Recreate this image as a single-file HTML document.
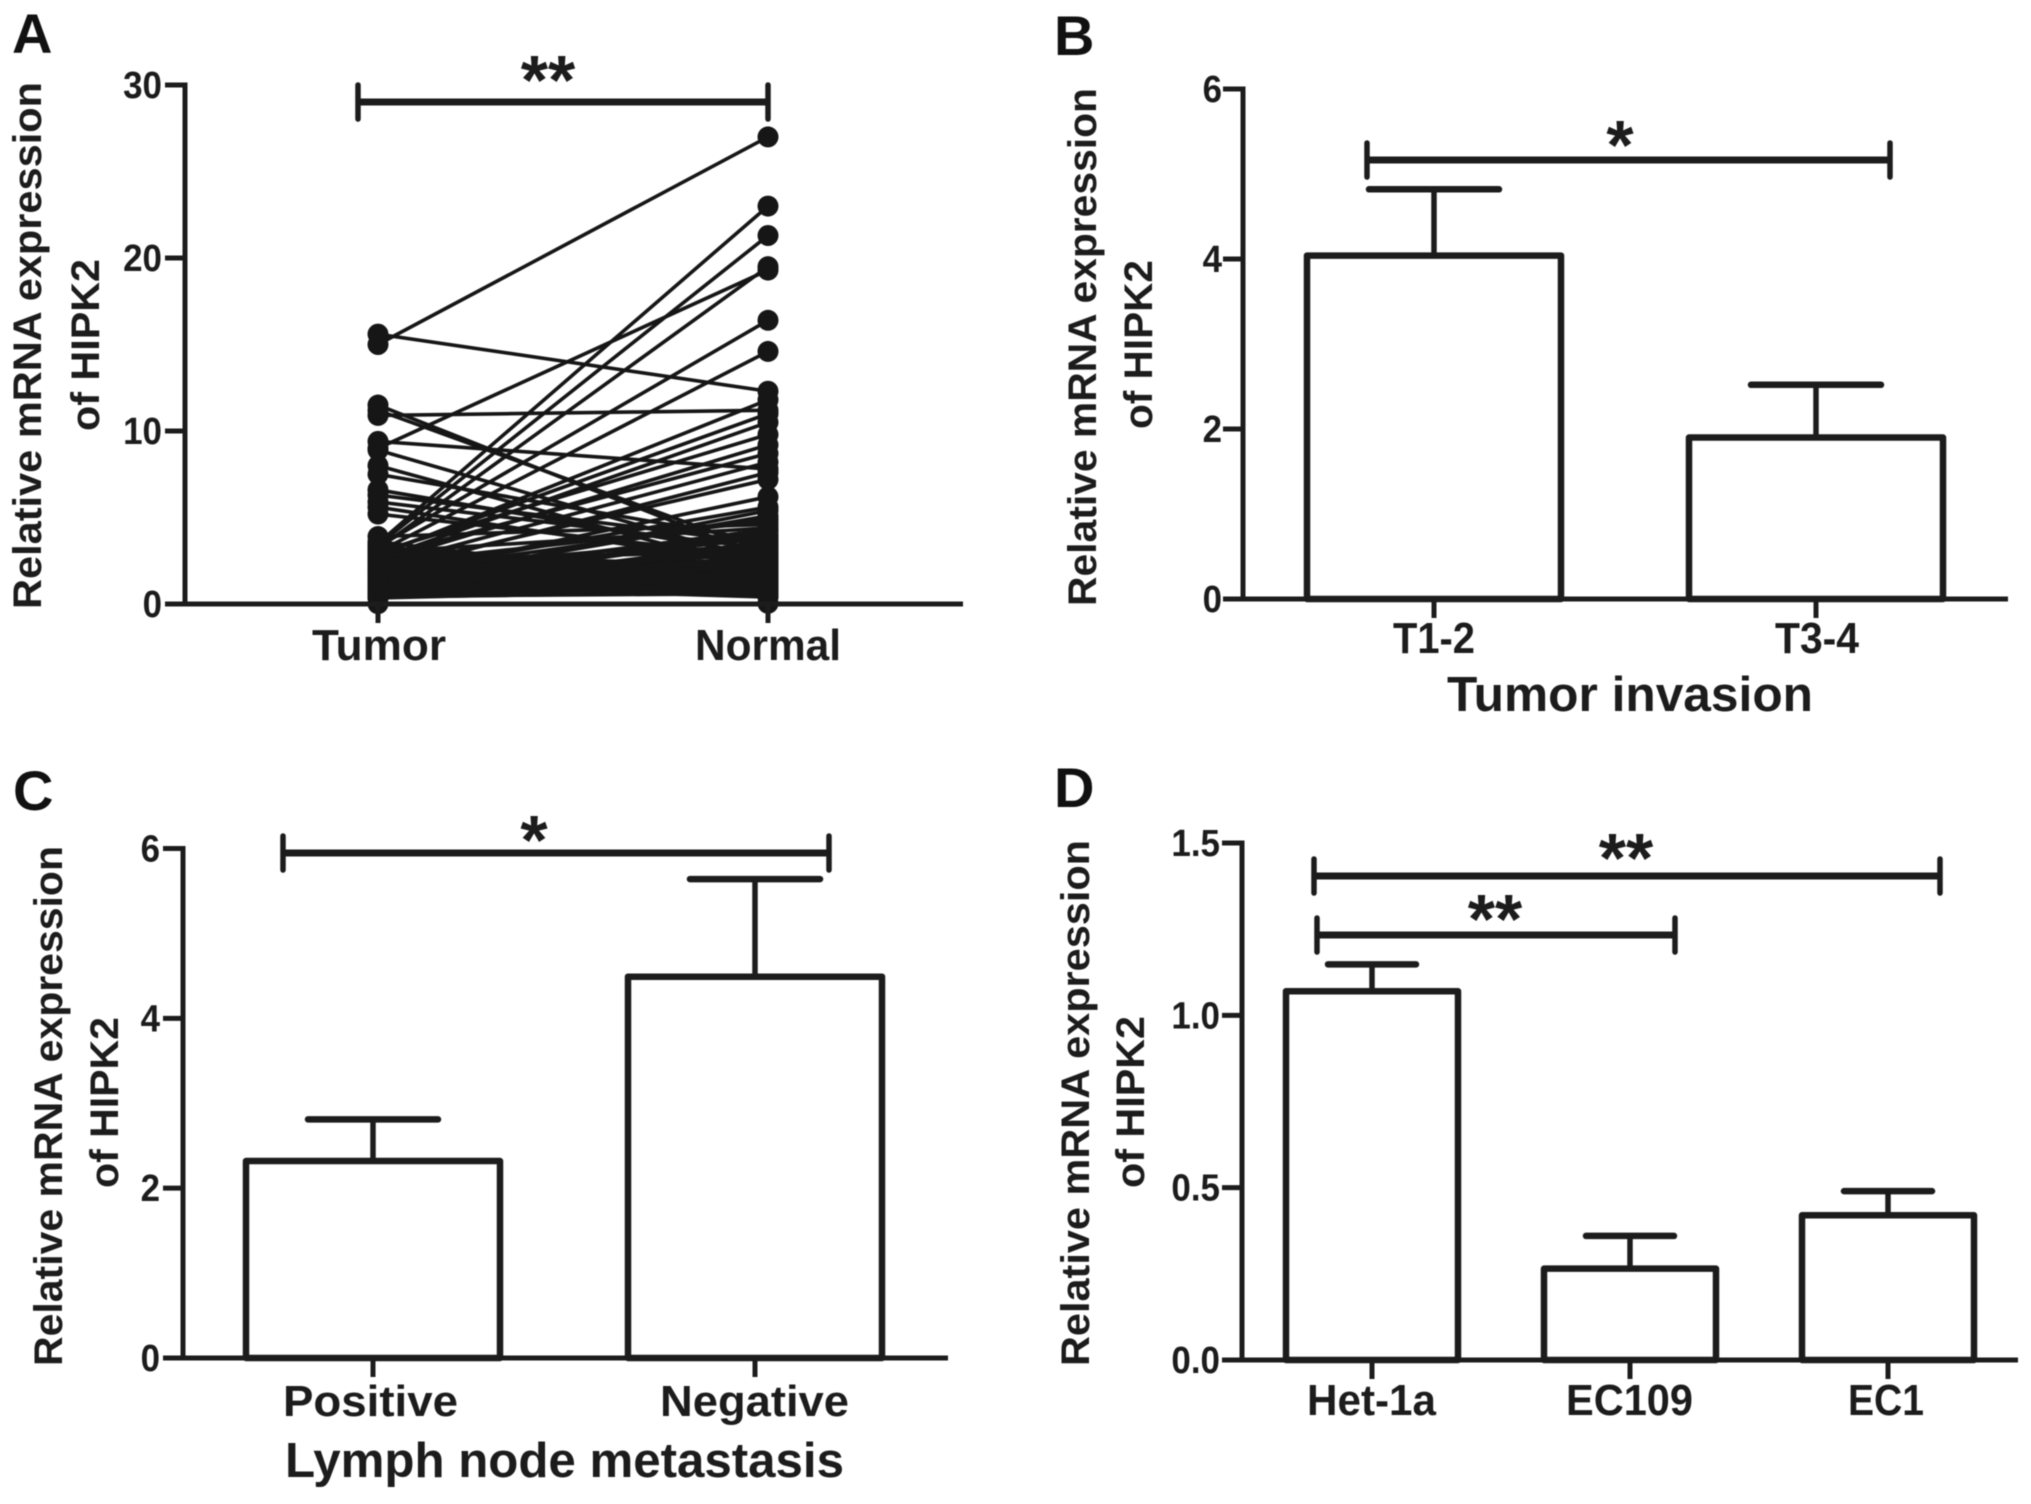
<!DOCTYPE html>
<html lang="en">
<head>
<meta charset="utf-8">
<title>Relative mRNA expression of HIPK2</title>
<style>
  html, body { margin: 0; padding: 0; background: #fff; }
  svg { display: block; filter: blur(0.6px); }
  text { font-family: "Liberation Sans", sans-serif; font-weight: bold; fill: #1c1c1c; }
  .letter { font-size: 56px; fill: #111; }
  .ytitle { font-size: 40px; }
  .xtitle { font-size: 49px; }
  .cat { font-size: 44px; }
  .tick { font-size: 38px; text-anchor: end; }
  .star { font-size: 70px; text-anchor: middle; }
</style>
</head>
<body>
<svg id="figure" xmlns="http://www.w3.org/2000/svg" width="2031" height="1504" viewBox="0 0 2031 1504">
  <rect width="2031" height="1504" fill="#fff"/>

  <g id="panel-a">
    <text class="letter" x="12" y="53">A</text>
    <text class="ytitle" transform="translate(41,609) rotate(-90)" textLength="527" lengthAdjust="spacingAndGlyphs">Relative mRNA expression</text>
    <text class="ytitle" transform="translate(99,431) rotate(-90)" textLength="172" lengthAdjust="spacingAndGlyphs">of HIPK2</text>
  </g>
  <g id="panel-b">
    <text class="letter" x="1054" y="55">B</text>
    <text class="ytitle" transform="translate(1096,606) rotate(-90)" textLength="518" lengthAdjust="spacingAndGlyphs">Relative mRNA expression</text>
    <text class="ytitle" transform="translate(1152,429) rotate(-90)" textLength="169" lengthAdjust="spacingAndGlyphs">of HIPK2</text>
    <text class="xtitle" x="1447" y="711" textLength="366" lengthAdjust="spacingAndGlyphs">Tumor invasion</text>
  </g>
  <g id="panel-c">
    <text class="letter" x="13" y="810">C</text>
    <text class="ytitle" transform="translate(62,1366) rotate(-90)" textLength="520" lengthAdjust="spacingAndGlyphs">Relative mRNA expression</text>
    <text class="ytitle" transform="translate(118,1188) rotate(-90)" textLength="171" lengthAdjust="spacingAndGlyphs">of HIPK2</text>
    <text class="xtitle" x="285" y="1477" textLength="559" lengthAdjust="spacingAndGlyphs">Lymph node metastasis</text>
  </g>
  <g id="panel-d">
    <text class="letter" x="1054" y="807">D</text>
    <text class="ytitle" transform="translate(1089,1366) rotate(-90)" textLength="526" lengthAdjust="spacingAndGlyphs">Relative mRNA expression</text>
    <text class="ytitle" transform="translate(1144,1188) rotate(-90)" textLength="172" lengthAdjust="spacingAndGlyphs">of HIPK2</text>
  </g>
</svg>

<script>
// ---------- Panel A data (paired samples) ----------
const aCategories = ['Tumor', 'Normal'];
const aTicks = [0, 10, 20, 30];
const aTumor = [
  15.0, 15.6, 11.5, 11.2, 10.9, 9.4, 9.0, 8.9, 8.0, 7.5, 6.6, 6.3, 5.9, 5.6, 5.2,
  3.5, 3.4, 3.2, 3.3, 3.0, 2.9, 2.6, 3.0, 2.4, 2.7, 2.2, 1.8, 2.0, 1.5, 1.7, 1.2, 3.9, 1.4, 0.9, 2.8,
  3.6, 3.3, 3.1, 2.9, 2.8, 2.6, 2.5, 2.4, 2.3, 2.2, 2.1, 2.0, 1.9, 1.8, 1.7, 1.6, 1.5, 1.4,
  1.3, 1.2, 1.1, 1.0, 0.9, 0.8, 0.7, 0.6, 0.5, 0.45, 0.4, 0.35, 3.0, 2.7, 2.3, 1.9, 1.6, 1.3,
  1.0, 0.8, 0.6, 0.5, 0.4, 0.02,
  2.5, 1.1, 2.0, 0.7, 1.6, 2.2, 0.9, 1.4, 2.9, 0.6, 1.8, 1.2, 2.4, 0.8, 1.5, 2.1, 1.0, 1.7, 0.5, 2.6,
  1.3, 0.7, 1.9, 1.1, 2.3, 0.55, 1.6, 0.95, 2.0, 1.25, 3.2, 1.75, 0.65, 2.45, 1.05
];
const aNormal = [
  27.0, 12.3, 2.6, 3.0, 11.2, 7.8, 19.3, 2.4, 1.8, 3.6, 2.8, 3.5, 3.2, 2.2, 2.7,
  23.0, 21.3, 19.5, 16.4, 14.6, 11.0, 10.5, 9.8, 9.2, 8.7, 8.2, 7.6, 7.2, 6.2, 5.6, 5.1, 4.6, 4.3, 4.0, 11.8,
  0.9, 1.6, 0.6, 2.2, 1.1, 3.0, 1.4, 0.8, 2.5, 1.8, 3.4, 0.5, 1.3, 2.9, 0.7, 2.1, 3.8, 1.0,
  2.6, 1.9, 0.4, 1.5, 3.2, 0.8, 2.3, 1.2, 1.7, 0.6, 2.0, 0.9, 4.4, 0.45, 4.8, 3.9, 1.1, 2.7,
  0.55, 1.45, 2.4, 1.0, 0.7, 0.04,
  0.8, 2.2, 1.3, 2.8, 0.6, 1.7, 2.0, 0.9, 1.5, 2.6, 1.1, 3.0, 0.7, 1.9, 2.4, 1.2, 3.3, 0.5, 1.6, 1.0,
  2.1, 3.6, 0.65, 2.7, 1.4, 1.8, 2.9, 4.2, 0.95, 3.1, 1.25, 4.9, 2.3, 1.55, 5.4
];

// ---------- Panel B data ----------
const bCategories = ['T1-2', 'T3-4'];
const bMeans = [4.04, 1.9];
const bErrors = [0.78, 0.62];
const bTicks = [0, 2, 4, 6];

// ---------- Panel C data ----------
const cCategories = ['Positive', 'Negative'];
const cMeans = [2.32, 4.49];
const cErrors = [0.49, 1.15];
const cTicks = [0, 2, 4, 6];

// ---------- Panel D data ----------
const dCategories = ['Het-1a', 'EC109', 'EC1'];
const dMeans = [1.07, 0.265, 0.42];
const dErrors = [0.078, 0.095, 0.07];
const dTicks = ['0.0', '0.5', '1.0', '1.5'];

const NS = 'http://www.w3.org/2000/svg';
const INK = '#1c1c1c';

function make(parent, tag, attrs, text) {
  const el = document.createElementNS(NS, tag);
  for (const k in attrs) el.setAttribute(k, attrs[k]);
  if (text !== undefined) el.textContent = text;
  parent.appendChild(el);
  return el;
}
function seg(parent, x1, y1, x2, y2, w) {
  return make(parent, 'line', { x1: x1, y1: y1, x2: x2, y2: y2, stroke: INK, 'stroke-width': w, 'stroke-linecap': 'butt' });
}

function drawAxes(g, L, ticks, categories) {
  const yAxis = seg(g, L.axisX, L.yOf(Number(ticks[ticks.length - 1])) - 2.5, L.axisX, L.base + 2.5, 5);
  
  
  const xAxis = seg(g, L.axisX - 2, L.base, L.axisEnd, L.base, 5);
  
  
  ticks.forEach(function (t) {
    const y = L.yOf(Number(t));
    const mark = seg(g, L.axisX - 20, y, L.axisX, y, 5);
    
    
    const label = make(g, 'text', { class: 'tick', x: L.tickRight, y: y + 13 }, String(t));
    
    
    label.setAttribute('textLength', (label.getComputedTextLength() * 0.92).toFixed(1));
    label.setAttribute('lengthAdjust', 'spacingAndGlyphs');
  });
  categories.forEach(function (c, i) {
    const x = L.xOf(i);
    const mark = seg(g, x, L.base, x, L.base + 19, 5);
    
    
    const label = make(g, 'text', { class: 'cat', x: L.labels[i][0], y: L.labelBase, textLength: L.labels[i][1], lengthAdjust: 'spacingAndGlyphs' }, c);
    
    
  });
}

function drawBars(g, L, means, errors) {
  means.forEach(function (m, i) {
    const x = L.xOf(i);
    const yTop = L.yOf(m);
    const yErr = L.yOf(m + errors[i]);
    const stem = seg(g, x, yTop, x, yErr, 5.5);
    
    
    const cap = make(g, 'line', { x1: x - L.capHalf, y1: yErr, x2: x + L.capHalf, y2: yErr, stroke: INK, 'stroke-width': 6.5, 'stroke-linecap': 'round' });
    
    
    const bar = make(g, 'rect', { x: x - L.barHalf, y: yTop, width: L.barHalf * 2, height: L.base - yTop, fill: '#fff', stroke: INK, 'stroke-width': 6.5, 'stroke-linejoin': 'round' });
    
    
  });
}

function drawBracket(g, x1, x2, y, starX, starBase, stars) {
  const bar = seg(g, x1, y, x2, y, 7);
  
  
  [x1, x2].forEach(function (x) {
    const end = make(g, 'line', { x1: x, y1: y - 17, x2: x, y2: y + 17, stroke: INK, 'stroke-width': 5.5, 'stroke-linecap': 'round' });
    
    
  });
  const star = make(g, 'text', { class: 'star', x: starX, y: starBase }, stars);
  
  
}

function linear(v0, p0, v1, p1) {
  return function (v) { return p0 + (v - v0) * (p1 - p0) / (v1 - v0); };
}

// ---------- Panel A ----------
(function () {
  const g = document.getElementById('panel-a');
  const L = {
    axisX: 185, axisEnd: 963, base: 604, tickRight: 162, labelBase: 660,
    yOf: linear(0, 604, 30, 85),
    xOf: function (i) { return 378 + i * 390; },
    labels: [[312, 134], [695, 146]]
  };
  aTumor.forEach(function (t, i) {
    const line = make(g, 'line', { x1: L.xOf(0), y1: L.yOf(t), x2: L.xOf(1), y2: L.yOf(aNormal[i]), stroke: '#161616', 'stroke-width': 3.6 });
    
    
  });
  aTumor.forEach(function (t, i) {
    const a = make(g, 'circle', { cx: L.xOf(0), cy: L.yOf(t), r: 10.5, fill: '#161616' });
    
    
    const b = make(g, 'circle', { cx: L.xOf(1), cy: L.yOf(aNormal[i]), r: 10.5, fill: '#161616' });
    
    
  });
  drawAxes(g, L, aTicks, aCategories);
  drawBracket(g, 358, 768, 102, 548, 104, '**');
})();

// ---------- Panel B ----------
(function () {
  const g = document.getElementById('panel-b');
  const L = {
    axisX: 1243, axisEnd: 2008, base: 599, tickRight: 1222, labelBase: 653,
    yOf: linear(0, 599, 6, 89),
    xOf: function (i) { return 1434 + i * 382; },
    barHalf: 127, capHalf: 65,
    labels: [[1393, 82], [1775, 84]]
  };
  drawBars(g, L, bMeans, bErrors);
  drawAxes(g, L, bTicks, bCategories);
  drawBracket(g, 1367, 1890, 160, 1620, 169, '*');
})();

// ---------- Panel C ----------
(function () {
  const g = document.getElementById('panel-c');
  const L = {
    axisX: 183, axisEnd: 948, base: 1358, tickRight: 160, labelBase: 1416,
    yOf: linear(0, 1358, 6, 848.5),
    xOf: function (i) { return 373 + i * 382; },
    barHalf: 127, capHalf: 65,
    labels: [[283, 175], [660, 189]]
  };
  drawBars(g, L, cMeans, cErrors);
  drawAxes(g, L, cTicks, cCategories);
  drawBracket(g, 283, 829, 853, 534, 864, '*');
})();

// ---------- Panel D ----------
(function () {
  const g = document.getElementById('panel-d');
  const L = {
    axisX: 1242, axisEnd: 2018, base: 1360, tickRight: 1220, labelBase: 1415,
    yOf: linear(0, 1360, 1.5, 843),
    xOf: function (i) { return 1372 + i * 258; },
    barHalf: 86, capHalf: 44,
    labels: [[1307, 129], [1566, 127], [1848, 76]]
  };
  drawBars(g, L, dMeans, dErrors);
  drawAxes(g, L, dTicks, dCategories);
  drawBracket(g, 1314, 1940, 876, 1626, 882, '**');
  drawBracket(g, 1317, 1675, 935, 1495, 943, '**');
})();
</script>
</body>
</html>
